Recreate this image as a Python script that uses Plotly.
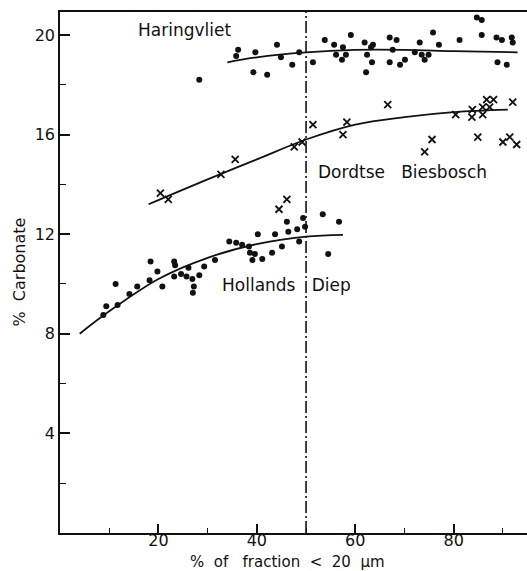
import plotly.graph_objects as go

# ---------------- data ----------------
har_x = [28.3, 35.8, 36.2, 39.7, 39.3, 42.1, 44.1, 44.9, 47.2, 48.6, 51.4, 53.8, 55.7, 56.1,
         57.5, 58.1, 57.3, 59.1, 61.9, 63.6, 63.2, 62.4, 63.4, 62.2, 67.0, 68.4, 67.6, 67.0,
         69.1, 70.1, 73.1, 72.1, 73.5, 74.1, 74.9, 75.8, 77.0, 81.2, 84.7, 85.7, 85.7, 88.7,
         89.8, 88.9, 90.8, 91.8, 92.0]
har_y = [18.2, 19.15, 19.4, 19.3, 18.5, 18.4, 19.6, 19.1, 18.8, 19.3, 18.9, 19.8, 19.6, 19.2,
         19.5, 19.2, 19.0, 20.0, 19.7, 19.6, 19.5, 19.2, 18.9, 18.5, 19.9, 19.8, 19.4, 18.9,
         18.8, 19.0, 19.7, 19.3, 19.2, 19.0, 19.2, 20.1, 19.6, 19.8, 20.7, 20.6, 20.0, 19.9,
         19.8, 18.9, 18.8, 19.9, 19.7]
har_fit_x = [34, 40, 50, 60, 70, 80, 93]
har_fit_y = [18.9, 19.1, 19.3, 19.4, 19.4, 19.35, 19.3]

dor_x = [20.4, 22.0, 32.7, 35.6, 44.5, 46.1, 47.6, 49.2, 51.4, 58.3, 57.5, 66.6, 75.6, 74.1,
         80.4, 83.8, 83.7, 85.9, 86.7, 88.1, 87.3, 85.9, 84.9, 92.0, 90.0, 91.4, 92.8]
dor_y = [13.65, 13.4, 14.4, 15.0, 13.0, 13.4, 15.5, 15.7, 16.4, 16.5, 16.0, 17.2, 15.8, 15.3,
         16.8, 17.0, 16.7, 17.1, 17.4, 17.4, 17.1, 16.8, 15.9, 17.3, 15.7, 15.9, 15.6]
dor_fit_x = [18, 30, 40, 50, 60, 70, 80, 91]
dor_fit_y = [13.2, 14.2, 15.0, 15.8, 16.4, 16.7, 16.9, 17.0]

hol_x = [8.8, 9.4, 11.3, 11.7, 14.1, 15.7, 18.4, 18.2, 19.8, 20.8, 23.2, 23.4, 23.2, 24.6,
         25.7, 26.1, 26.9, 27.2, 27.0, 28.3, 29.3, 31.5, 34.4, 35.8, 37.0, 38.4, 38.6, 39.6,
         39.1, 41.1, 40.2, 43.1, 43.7, 45.1, 46.1, 46.4, 48.2, 48.6, 49.4, 49.8, 53.4, 56.7,
         54.5]
hol_y = [8.75, 9.1, 10.0, 9.15, 9.6, 9.9, 10.9, 10.15, 10.5, 9.9, 10.9, 10.75, 10.3, 10.4,
         10.3, 10.65, 10.2, 9.9, 9.65, 10.35, 10.7, 10.96, 11.7, 11.65, 11.57, 11.5, 11.25,
         11.2, 10.96, 11.0, 12.0, 11.25, 12.0, 11.5, 12.5, 12.1, 12.2, 11.7, 12.65, 12.3,
         12.8, 12.5, 11.2]
hol_fit_x = [4, 10, 20, 30, 40, 50, 57.5]
hol_fit_y = [8.0, 8.9, 10.2, 11.05, 11.6, 11.9, 11.97]

boundary_x = 50
x_range = [0, 94.9]
y_range = [0, 20.92]

NB = "\u00a0"
labels = ["Haringvliet", "Dordtse" + NB * 3 + "Biesbosch", "Hollands" + NB * 3 + "Diep"]
label_x = [25.3, 69.7, 46.0]
label_y = [20.2, 14.5, 9.95]

x_ticks = [20, 40, 60, 80]
y_ticks = [4, 8, 12, 16, 20]
x_title = "%" + NB * 2 + "of" + NB * 3 + "fraction" + NB * 2 + "&lt;" + NB * 2 + "20" + NB * 2 + "µm"
y_title = "%" + NB * 2 + "Carbonate"

FONT = "DejaVu Sans"
BLACK = "#111111"

fig = go.Figure()

dot = dict(symbol="circle", size=6, color=BLACK)
cross = dict(symbol="x-thin-open", size=7, color=BLACK, line=dict(color=BLACK, width=1.8))

fig.add_trace(go.Scatter(x=har_x, y=har_y, mode="markers", marker=dot))
fig.add_trace(go.Scatter(x=har_fit_x, y=har_fit_y, mode="lines", line=dict(color=BLACK, width=1.8, shape="spline")))
fig.add_trace(go.Scatter(x=dor_x, y=dor_y, mode="markers", marker=cross))
fig.add_trace(go.Scatter(x=dor_fit_x, y=dor_fit_y, mode="lines", line=dict(color=BLACK, width=1.8, shape="spline")))
fig.add_trace(go.Scatter(x=hol_x, y=hol_y, mode="markers", marker=dot))
fig.add_trace(go.Scatter(x=hol_fit_x, y=hol_fit_y, mode="lines", line=dict(color=BLACK, width=1.8, shape="spline")))

fig.add_shape(type="line", x0=boundary_x, x1=boundary_x, y0=0, y1=1, xref="x", yref="paper",
              line=dict(color=BLACK, width=1.6, dash="12px,3px,2px,3px"))

for t, xv, yv in zip(labels, label_x, label_y):
    fig.add_annotation(x=xv, y=yv, text=t, showarrow=False, xref="x", yref="y",
                       font=dict(family=FONT, size=17, color=BLACK))

fig.add_annotation(x=0, y=0.5, xref="paper", yref="paper", text=y_title, xshift=-41,
                   xanchor="center", yanchor="middle",
                   textangle=-90, showarrow=False, font=dict(family=FONT, size=16, color=BLACK))
fig.add_annotation(x=(287 - 60) / 467, y=0, xref="paper", yref="paper", yshift=-29,
                   text=x_title, showarrow=False, yanchor="middle",
                   font=dict(family=FONT, size=15, color=BLACK))

fig.update_layout(
    width=527, height=571,
    margin=dict(l=60, r=0, t=12, b=38),
    paper_bgcolor="white", plot_bgcolor="white",
    showlegend=False,
    font=dict(family=FONT, size=16, color=BLACK),
)
fig.update_xaxes(range=x_range, tickvals=x_ticks, ticks="inside", ticklen=9, tickwidth=1.5,
                 tickcolor=BLACK, showline=True, linewidth=2, linecolor=BLACK, mirror=True,
                 showgrid=False, zeroline=False, ticklabelstandoff=-8,
                 minor=dict(tickvals=[10, 30, 50, 70, 90], ticks="inside", ticklen=5,
                            tickcolor=BLACK, tickwidth=1.2),
                 tickfont=dict(family=FONT, size=16, color=BLACK))
fig.update_yaxes(range=y_range, tickvals=y_ticks, ticks="inside", ticklen=10, tickwidth=1.5,
                 tickcolor=BLACK, showline=True, linewidth=1.5, linecolor=BLACK,
                 showgrid=False, zeroline=False,
                 minor=dict(tickvals=[2, 6, 10, 14, 18], ticks="inside", ticklen=6,
                            tickcolor=BLACK, tickwidth=1.2),
                 tickfont=dict(family=FONT, size=16, color=BLACK))

fig.write_html("out.html")
